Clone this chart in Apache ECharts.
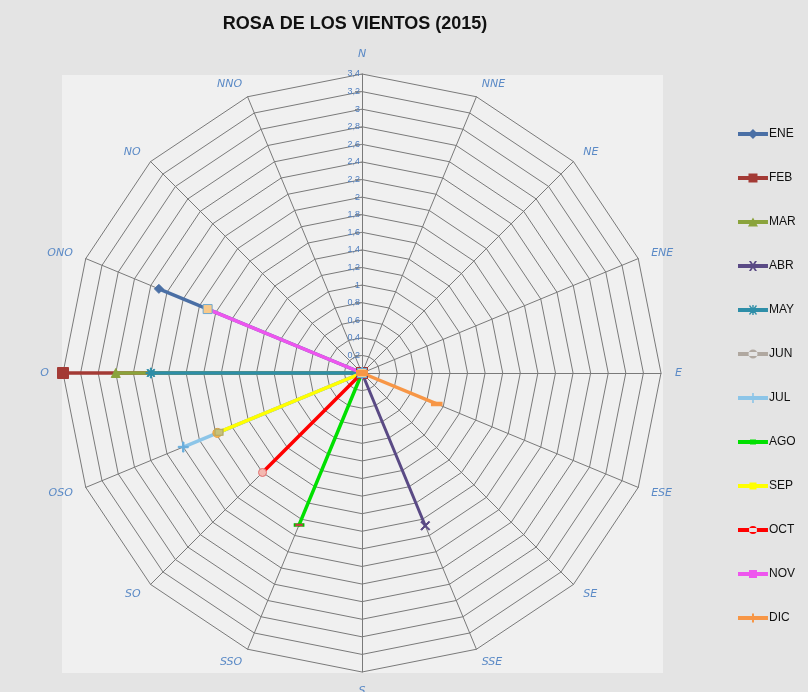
<!DOCTYPE html>
<html>
<head>
<meta charset="utf-8">
<script src="https://cdn.jsdelivr.net/npm/echarts@6/dist/echarts.min.js"></script>
<style>
html,body{margin:0;padding:0;background:#e4e4e4;}
#chart{width:808px;height:692px;}
</style>
</head>
<body>
<div id="chart"></div>
<script>
// Direction indicators (counter-clockwise starting at N, as ECharts radar lays them out)
var directions = ['N','NNO','NO','ONO','O','OSO','SO','SSO','S','SSE','SE','ESE','E','ENE','NE','NNE'];
var months = ['ENE','FEB','MAR','ABR','MAY','JUN','JUL','AGO','SEP','OCT','NOV','DIC'];
var monthDirection = ['ONO','O','O','SSE','O','OSO','OSO','SSO','OSO','SO','ONO','ESE'];
var monthSpeed = [2.5, 3.4, 2.8, 1.88, 2.4, 1.78, 2.2, 1.87, 1.76, 1.6, 1.9, 0.92];
var axisMax = 3.4;
var axisStep = 0.2;

var lineColors = ['#4a6fa5','#a33a35','#8aa33c','#5a4a85','#2e8ea8','#a6a6a6','#8cc5e8','#00e000','#ffff00','#ff0000','#ee55ee','#f79646'];
var markerFill = ['#4a6fa5','#a33a35','#8aa33c','#5a4a85','#2e8ea8','#f8b550','#6aaedc','#c04040','#c8c27a','#f4b8b0','#f8c98a','#f79646'];
var markerBorder = ['#4a6fa5','#a33a35','#8aa33c','#5a4a85','#2e8ea8','#e0a040','#6aaedc','#00c000','#b0a860','#e07070','#6fa8d0','#f79646'];
var legendColors = ['#4a6fa5','#a33a35','#8aa33c','#5a4a85','#2e8ea8','#b0a8a0','#8cc5e8','#00e000','#ffff00','#ff0000','#ee55ee','#f79646'];

var P = {
  X: 'path://M0,1 L1,0 L5,4 L9,0 L10,1 L6,5 L10,9 L9,10 L5,6 L1,10 L0,9 L4,5 Z',
  plus: 'path://M4.3,0 H5.7 V4.3 H10 V5.7 H5.7 V10 H4.3 V5.7 H0 V4.3 H4.3 Z',
  star: 'path://M4.4,0H5.6V3.6L8.2,1L9,1.8L6.4,4.4H10V5.6H6.4L9,8.2L8.2,9L5.6,6.4V10H4.4V6.4L1.8,9L1,8.2L3.6,5.6H0V4.4H3.6L1,1.8L1.8,1L4.4,3.6Z',
  dash: 'path://M0,0H10V3H0Z'
};
var symbols = ['diamond','rect','triangle',P.X,P.star,'circle',P.plus,P.dash,'rect','circle','rect',P.dash];
var symbolSizes = [9,11,9,9,10,9,10,[9,3],[8,6],8,9,[10,4]];

var legendMarks = [
  'M15,1L20,6L15,11L10,6Z',
  'M10.5,1.5H19.5V10.5H10.5Z',
  'M15,1.5L20,10.5H10Z',
  'M11,1L13,1L15,4L17,1L19,1L16,6L19,11L17,11L15,8L13,11L11,11L14,6Z',
  'M14.3,1H15.7V11H14.3Z M10,5.3H20V6.7H10Z M11,2L12,1L19,10L18,11Z M18,1L19,2L12,11L11,10Z',
  'M15,1.5A4.5,4.5 0 1 0 15.01,1.5Z',
  'M14.2,1H15.8V11H14.2Z',
  'M12,3.5H18V8.5H12Z',
  'M11.5,2.5H18.5V9.5H11.5Z',
  'M15,2A4,4 0 1 0 15.01,2Z',
  'M11,2H19V10H11Z',
  'M14,1.5H16V10.5H14Z'
];
function legendIcon(i){ return 'path://M0,0H0.01V0.01Z M29.99,12H30V12.01Z M0,4H30V8H0Z ' + legendMarks[i]; }

function fmt(v){
  if (Math.abs(v) < 1e-9) return '';
  return String(Math.round(v * 10) / 10).replace('.', ',');
}

var indicators = directions.map(function (d, i) {
  var ind = { name: d, min: 0, max: axisMax };
  if (i === 0) {
    ind.axisLabel = { show: true, formatter: fmt, color: '#4f7fc0', fontSize: 9, fontFamily: 'Liberation Sans Narrow, Liberation Sans, sans-serif', margin: 2 };
    ind.axisTick = { show: true, length: 7, lineStyle: { color: '#8a8a8a' } };
  }
  return ind;
});

var series = months.map(function (m, i) {
  var vals = directions.map(function (d) { return d === monthDirection[i] ? monthSpeed[i] : 0; });
  return {
    type: 'radar',
    name: m,
    symbol: symbols[i],
    symbolSize: symbolSizes[i],
    lineStyle: { color: lineColors[i], width: (i === 3 ? 3 : 3.5) },
    itemStyle: { color: markerFill[i], borderColor: markerBorder[i], borderWidth: 1 },
    data: [{ value: vals, name: m }]
  };
});

var chart = echarts.init(document.getElementById('chart'), null, { renderer: 'canvas' });
chart.setOption({
  animation: false,
  backgroundColor: '#e4e4e4',
  title: {
    text: 'ROSA DE LOS VIENTOS (2015)',
    left: 350, top: 10, textAlign: 'center',
    textStyle: { fontSize: 18, fontWeight: 'bold', color: '#111', fontFamily: 'Liberation Sans Narrow, Liberation Sans, sans-serif' }
  },
  graphic: { elements: [{ type: 'rect', z: -100, silent: true, shape: { x: 62, y: 75, width: 601, height: 598 }, style: { fill: '#f0f0f0' } }] },
  legend: {
    orient: 'vertical', left: 733, top: 123,
    itemWidth: 30, itemHeight: 12, itemGap: 32,
    textStyle: { color: '#111', fontSize: 12, lineHeight: 12, fontFamily: 'Liberation Sans Narrow, Liberation Sans, sans-serif', padding: [0,0,0,-4] },
    data: months.map(function (m, i) {
      return { name: m, icon: legendIcon(i), itemStyle: { color: legendColors[i], borderColor: legendColors[i], borderWidth: 0 } };
    })
  },
  radar: {
    center: [362, 373],
    radius: 299,
    startAngle: 90,
    shape: 'polygon',
    splitNumber: Math.round(axisMax / axisStep),
    indicator: indicators,
    nameGap: 14,
    axisName: { color: '#5b8ac6', fontSize: 11, fontStyle: 'italic', fontFamily: 'DejaVu Sans, sans-serif' },
    axisLine: { lineStyle: { color: '#7a7a7a', width: 1 } },
    splitLine: { lineStyle: { color: '#7a7a7a', width: 1 } },
    splitArea: { show: false },
    axisLabel: { show: false },
    axisTick: { show: false }
  },
  series: series
});
</script>
</body>
</html>
